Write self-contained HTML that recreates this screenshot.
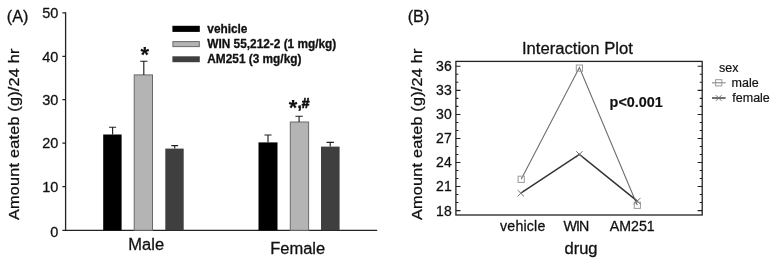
<!DOCTYPE html>
<html>
<head>
<meta charset="utf-8">
<title>Figure</title>
<style>
html,body{margin:0;padding:0;background:#fff;}
body{width:776px;height:265px;overflow:hidden;}
svg{display:block;filter:blur(0.4px);font-family:"Liberation Sans",Arial,sans-serif;fill:#111;}
text{stroke:#111;stroke-width:0.28;stroke-linejoin:round;}
text.b{stroke-width:0.15;}
.b text{stroke-width:0.3;}
.ax{stroke:#222;stroke-width:1.3;fill:none;}
.b{font-weight:bold;}
</style>
</head>
<body>
<svg width="776" height="265" viewBox="0 0 776 265">
<rect x="0" y="0" width="776" height="265" fill="#fff"/>

<!-- ================= Panel A ================= -->
<text transform="translate(6.8,21.8) scale(1.04,1)" font-size="15.6">(A)</text>
<text transform="translate(19.3,134.2) rotate(-90) scale(1.068,1)" text-anchor="middle" font-size="15.2" letter-spacing="0.2">Amount eateb (g)/24 hr</text>

<!-- y tick labels -->
<g font-size="14.5" text-anchor="end">
<text x="58.3" y="18">50</text>
<text x="58.3" y="61.5">40</text>
<text x="58.3" y="105">30</text>
<text x="58.3" y="148.4">20</text>
<text x="58.3" y="191.9">10</text>
<text x="58.3" y="236.9">0</text>
</g>
<!-- axes -->
<path class="ax" d="M65.6 12.3V230.3H377.2"/>
<path class="ax" d="M62.4 12.8H65.6M62.4 56.3H65.6M62.4 99.7H65.6M62.4 143.2H65.6M62.4 186.6H65.6M62.4 230.3H65.6"/>

<!-- bars male -->
<rect x="103.2" y="134.5" width="18.4" height="95.8" fill="#000"/>
<rect x="134.2" y="74.9" width="18.3" height="155.4" fill="#b4b4b4" stroke="#6a6a6a" stroke-width="1"/>
<rect x="165.3" y="148.6" width="18.4" height="81.7" fill="#3f3f3f"/>
<!-- bars female -->
<rect x="258.5" y="142.4" width="19" height="87.9" fill="#000"/>
<rect x="290.3" y="122" width="18.3" height="108.3" fill="#b4b4b4" stroke="#6a6a6a" stroke-width="1"/>
<rect x="321" y="146.6" width="18.6" height="83.7" fill="#3f3f3f"/>

<!-- error bars -->
<g class="ax" style="stroke-width:1.15">
<path d="M112.6 134.5V127.2M109.1 127.2H116.1"/>
<path d="M143.8 74.9V61.2M140.2 61.2H147.4"/>
<path d="M174.7 148.6V145.6M171.3 145.6H178.1"/>
<path d="M268 142.4V135M264.4 135H271.6"/>
<path d="M299.1 122V116.2M295.4 116.2H302.8"/>
<path d="M330.2 146.6V142.3M326.5 142.3H333.9"/>
</g>

<!-- significance -->
<text class="b" x="144.7" y="62.3" font-size="22" text-anchor="middle">*</text>
<text class="b" x="288.8" y="114.7" font-size="22">*<tspan font-size="14" dy="-6.3" dx="0.4" style="stroke-width:0.7">,#</tspan></text>

<!-- legend -->
<rect x="172.4" y="25.8" width="27.4" height="6.1" fill="#000"/>
<rect x="172.9" y="41.6" width="26.4" height="5" fill="#b4b4b4" stroke="#6a6a6a" stroke-width="1"/>
<rect x="172.4" y="56.3" width="27.4" height="5.9" fill="#3f3f3f"/>
<g class="b" font-size="11.85" style="stroke-width:0.3">
<text x="207.3" y="32.8">vehicle</text>
<text x="207.3" y="48.2">WIN 55,212-2 (1 mg/kg)</text>
<text x="207.3" y="63.4">AM251 (3 mg/kg)</text>
</g>

<!-- group labels -->
<text transform="translate(146.2,249.7) scale(1.03,1)" font-size="16" text-anchor="middle">Male</text>
<text transform="translate(297.7,253.5) scale(1.03,1)" font-size="16" text-anchor="middle">Female</text>

<!-- ================= Panel B ================= -->
<text transform="translate(407.7,21.9) scale(1.04,1)" font-size="15.6">(B)</text>
<text transform="translate(422.3,134.2) rotate(-90) scale(1.068,1)" text-anchor="middle" font-size="15.2" letter-spacing="0.2">Amount eateb (g)/24 hr</text>
<text transform="translate(577.4,54.0) scale(1.04,1)" font-size="16" text-anchor="middle">Interaction Plot</text>

<!-- box -->
<rect class="ax" x="455.9" y="61.4" width="246.3" height="153.6"/>
<!-- ticks left / right -->
<g class="ax" style="stroke-width:1.05">
<path d="M455.9 66.30h4.6M455.9 90.35h4.6M455.9 114.40h4.6M455.9 138.45h4.6M455.9 162.50h4.6M455.9 186.55h4.6M455.9 210.60h4.6"/>
<path d="M702.2 66.30h-4.6M702.2 90.35h-4.6M702.2 114.40h-4.6M702.2 138.45h-4.6M702.2 162.50h-4.6M702.2 186.55h-4.6M702.2 210.60h-4.6"/>
<path d="M455.9 74.32h2.5M455.9 82.33h2.5M455.9 98.37h2.5M455.9 106.38h2.5M455.9 122.42h2.5M455.9 130.43h2.5M455.9 146.47h2.5M455.9 154.48h2.5M455.9 170.52h2.5M455.9 178.53h2.5M455.9 194.57h2.5M455.9 202.58h2.5"/>
<path d="M702.2 74.32h-2.5M702.2 82.33h-2.5M702.2 98.37h-2.5M702.2 106.38h-2.5M702.2 122.42h-2.5M702.2 130.43h-2.5M702.2 146.47h-2.5M702.2 154.48h-2.5M702.2 170.52h-2.5M702.2 178.53h-2.5M702.2 194.57h-2.5M702.2 202.58h-2.5"/>
</g>
<g font-size="14" text-anchor="end">
<text x="451.7" y="71.0">36</text>
<text x="451.7" y="95.1">33</text>
<text x="451.7" y="119.2">30</text>
<text x="451.7" y="143.2">27</text>
<text x="451.7" y="167.3">24</text>
<text x="451.7" y="191.4">21</text>
<text x="451.7" y="215.5">18</text>
</g>

<!-- male series -->
<path d="M521.2 179.3L579.4 67.6L637.3 205.3" fill="none" stroke="#6e6e6e" stroke-width="1.1"/>
<g fill="none" stroke="#9a9a9a" stroke-width="1">
<rect x="518.1" y="176.2" width="6.2" height="6.2"/>
<rect x="576.3" y="65" width="6.2" height="6.2"/>
<rect x="634.2" y="202.2" width="6.2" height="6.2"/>
</g>
<!-- female series -->
<path d="M520.8 193.2L579.4 154.4L637.3 201.1" fill="none" stroke="#333" stroke-width="1.5"/>
<g fill="none" stroke="#707070" stroke-width="1">
<path d="M517.6 190l6.4 6.4M524 190l-6.4 6.4"/>
<path d="M576.2 151.2l6.4 6.4M582.6 151.2l-6.4 6.4"/>
<path d="M634.1 197.9l6.4 6.4M640.5 197.9l-6.4 6.4"/>
</g>

<text class="b" x="609.6" y="106.9" font-size="14.4">p&lt;0.001</text>

<!-- x tick labels -->
<g font-size="14.2" text-anchor="middle">
<text x="522.8" y="230.9" letter-spacing="0.2">vehicle</text>
<text x="575.9" y="230.9" letter-spacing="-0.9">WIN</text>
<text x="632.3" y="230.9">AM251</text>
</g>
<text transform="translate(581,253.6) scale(1.03,1)" font-size="16.1" text-anchor="middle">drug</text>

<!-- legend B -->
<g font-size="12.5" style="stroke-width:0.2">
<text x="719" y="72.3" style="stroke-width:0.2">sex</text>
<text x="731.6" y="86.8" style="stroke-width:0.2">male</text>
<text x="732.3" y="101.9" style="stroke-width:0.2">female</text>
</g>
<path d="M712 82.8H725.6" fill="none" stroke="#858585" stroke-width="1.1"/>
<rect x="715.6" y="79.7" width="6.2" height="6.2" fill="none" stroke="#9a9a9a" stroke-width="1"/>
<path d="M712 98H725.6" stroke="#333" stroke-width="1.4" fill="none"/>
<path d="M715.9 95.2l5.6 5.6M721.5 95.2l-5.6 5.6" stroke="#707070" stroke-width="1" fill="none"/>
</svg>
</body>
</html>
